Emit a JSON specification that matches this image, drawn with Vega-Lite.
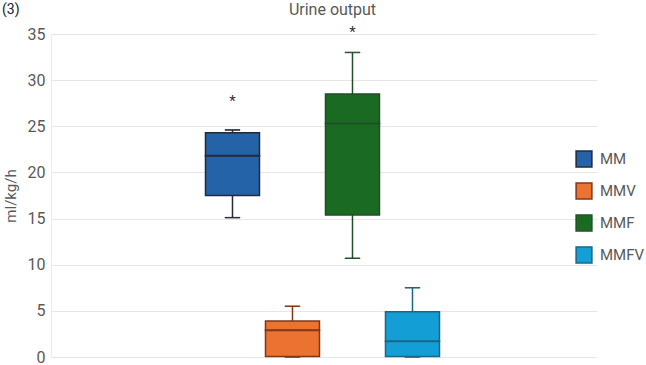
{
  "$schema": "https://vega.github.io/schema/vega-lite/v6.json",
  "width": 546,
  "height": 323,
  "autosize": "none",
  "padding": {"left": 51, "top": 34, "right": 49, "bottom": 8},
  "background": "white",
  "title": {"text": "(3)", "anchor": "start", "frame": "group", "dx": -49, "dy": 8, "offset": -8, "fontSize": 14, "fontWeight": "normal", "color": "#222222", "font": "Roboto"},
  "config": {
    "view": {"stroke": null},
    "font": "Roboto"
  },
  "data": {
    "values": [
      {"group": "MM", "min": 15.1, "q1": 17.5, "median": 21.8, "q3": 24.3, "max": 24.6, "star": 28.0},
      {"group": "MMV", "min": 0.0, "q1": 0.05, "median": 2.9, "q3": 3.9, "max": 5.5, "star": null},
      {"group": "MMF", "min": 10.7, "q1": 15.4, "median": 25.3, "q3": 28.5, "max": 33.0, "star": 35.4},
      {"group": "MMFV", "min": 0.0, "q1": 0.05, "median": 1.7, "q3": 4.9, "max": 7.5, "star": null}
    ]
  },
  "encoding": {
    "x": {
      "field": "group",
      "type": "nominal",
      "scale": {"domain": ["_a", "_b", "MM", "MMV", "MMF", "MMFV", "_c", "_d"], "paddingInner": 0.1, "paddingOuter": 0.6, "align": 0.479},
      "axis": {"orient": "top", "labels": false, "ticks": false, "domain": false, "title": "Urine output", "titleFontSize": 16, "titleFontWeight": "normal", "titleColor": "#595959", "titlePadding": 17, "titleX": 281}
    },
    "stroke": {"field": "group", "type": "nominal", "scale": {"domain": ["MM", "MMV", "MMF", "MMFV"], "range": ["#222a36", "#7e3816", "#1f4f28", "#1c6585"]}}
  },
  "layer": [
    {
      "mark": {"type": "rule", "strokeWidth": 1.5, "opacity": 1},
      "encoding": {
        "y": {"field": "min", "type": "quantitative", "scale": {"domain": [0, 35]},
          "axis": {"values": [0, 5, 10, 15, 20, 25, 30, 35], "domain": true, "domainColor": "#ebebeb", "ticks": false, "gridColor": "#e6e6e6", "labelFontSize": 16, "labelColor": "#595959", "labelPadding": 6, "title": "ml/kg/h", "titleFontSize": 15, "titleFontWeight": "normal", "titleColor": "#595959", "titlePadding": 9}},
        "y2": {"field": "max"}
      }
    },
    {
      "mark": {"type": "tick", "size": 15, "thickness": 0.5, "filled": false, "strokeWidth": 1, "opacity": 1},
      "encoding": {
        "y": {"field": "max", "type": "quantitative"}
      }
    },
    {
      "mark": {"type": "tick", "size": 15, "thickness": 0.5, "filled": false, "strokeWidth": 1, "opacity": 1},
      "encoding": {
        "y": {"field": "min", "type": "quantitative"}
      }
    },
    {
      "mark": {"type": "bar", "strokeWidth": 1.5, "opacity": 1},
      "encoding": {
        "y": {"field": "q1", "type": "quantitative"},
        "y2": {"field": "q3"},
        "fill": {"field": "group", "type": "nominal", "scale": {"domain": ["MM", "MMV", "MMF", "MMFV"], "range": ["#2463a8", "#ec7232", "#1b6a22", "#139fd6"]},
          "legend": {"title": null, "orient": "none", "legendX": 524, "legendY": 116, "symbolType": "square", "symbolSize": 250, "symbolStrokeWidth": 1.5, "symbolOpacity": 1, "symbolFillOpacity": 1, "labelFontSize": 15, "labelColor": "#595959", "rowPadding": 10, "labelOffset": 7}}
      }
    },
    {
      "mark": {"type": "tick", "size": 54, "thickness": 0.5, "filled": false, "strokeWidth": 1.5, "opacity": 1},
      "encoding": {
        "y": {"field": "median", "type": "quantitative"}
      }
    },
    {
      "mark": {"type": "text", "text": "*", "fontSize": 15, "color": "#333333", "baseline": "middle", "dy": 2},
      "encoding": {
        "y": {"field": "star", "type": "quantitative"},
        "stroke": {"value": null}
      }
    }
  ]
}
